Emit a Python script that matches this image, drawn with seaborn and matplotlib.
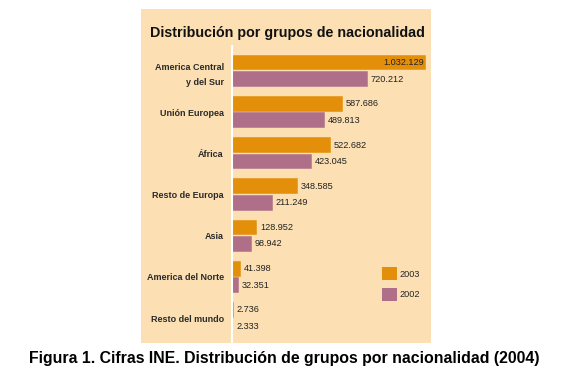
import pandas as pd
import matplotlib
matplotlib.use("Agg")
import matplotlib.pyplot as plt
from matplotlib.patches import Rectangle, Patch
import seaborn as sns

# data
grupos = ["America Central\ny del Sur", "Unión Europea", "África", "Resto de Europa",
          "Asia", "America del Norte", "Resto del mundo"]
v2003 = [1032129, 587686, 522682, 348585, 128952, 41398, 2736]
v2002 = [720212, 489813, 423045, 211249, 98942, 32351, 2333]
anios = ["2003", "2002"]

NARANJA = "#E38F0A"
MALVA = "#B06F88"
FONDO = "#FCE0B4"

df = pd.DataFrame({
    "grupo": grupos * 2,
    "valor": v2003 + v2002,
    "anio": [anios[0]] * len(grupos) + [anios[1]] * len(grupos),
})

sns.set_theme(style="white")
plt.rcParams["font.family"] = ["Liberation Sans Narrow", "Liberation Sans", "DejaVu Sans"]

W, H = 583, 380
fig = plt.figure(figsize=(W / 100, H / 100), dpi=100)
fig.patch.set_facecolor("white")

# beige panel behind the chart
fig.add_artist(Rectangle((141 / W, 1 - 343 / H), 290 / W, 334 / H,
                         transform=fig.transFigure, facecolor=FONDO,
                         edgecolor="none", zorder=0))

ax = fig.add_axes([232 / W, 1 - 343 / H, 199 / W, 297 / H])
ax.patch.set_alpha(0)

sns.barplot(data=df, y="grupo", x="valor", hue="anio", hue_order=anios,
            palette=[NARANJA, MALVA], orient="h", width=0.8, gap=0.17,
            saturation=1, legend=False, ax=ax)

# thin outline in the bar colour so the tiny bars still show
for bar in ax.patches:
    bar.set_edgecolor(bar.get_facecolor())
    bar.set_linewidth(1.1)

ax.set_xlim(0, 1064000)
ax.set_ylim(6.6, -0.6)
ax.set_xlabel("")
ax.set_ylabel("")
ax.set_xticks([])
ax.tick_params(axis="y", length=0, pad=6)
for lbl in ax.get_yticklabels():
    lbl.set_fontsize(6.5)
    lbl.set_fontweight("bold")
    lbl.set_color("#2a2a2a")
    lbl.set_horizontalalignment("right")
    lbl.set_linespacing(1.85)
for s in ["top", "right", "bottom"]:
    ax.spines[s].set_visible(False)
ax.spines["left"].set_color("white")
ax.spines["left"].set_linewidth(1.5)


def fmt(v):
    return f"{v:,}".replace(",", ".")


for cont, vals in zip(ax.containers, [v2003, v2002]):
    for bar, v in zip(cont, vals):
        y = bar.get_y() + bar.get_height() / 2
        x = bar.get_width()
        if v > 1000000:
            ax.text(x - 6000, y, fmt(v), ha="right", va="center", fontsize=6.6, color="#222222")
        else:
            ax.text(x + 20000, y, fmt(v), ha="left", va="center", fontsize=6.6, color="#222222")

handles = [Patch(facecolor=NARANJA, edgecolor="none"), Patch(facecolor=MALVA, edgecolor="none")]
fig.legend(handles, anios, loc="upper left", bbox_to_anchor=(374 / W, 1 - 259 / H),
           frameon=False, fontsize=6.6, handlelength=1.6, handleheight=1.8,
           handletextpad=0.3, labelspacing=0.85)

fig.text(287 / W, 1 - 33 / H, "Distribución por grupos de nacionalidad",
         ha="center", va="center", fontsize=10.3, fontweight="bold",
         family=["Liberation Sans", "DejaVu Sans"], color="#111111")

fig.text(284 / W, 1 - 358 / H,
         "Figura 1. Cifras INE. Distribución de grupos por nacionalidad (2004)",
         ha="center", va="center", fontsize=11.4, fontweight="bold",
         family=["Liberation Sans", "DejaVu Sans"], color="black")

fig.savefig("out.png", dpi=100)
